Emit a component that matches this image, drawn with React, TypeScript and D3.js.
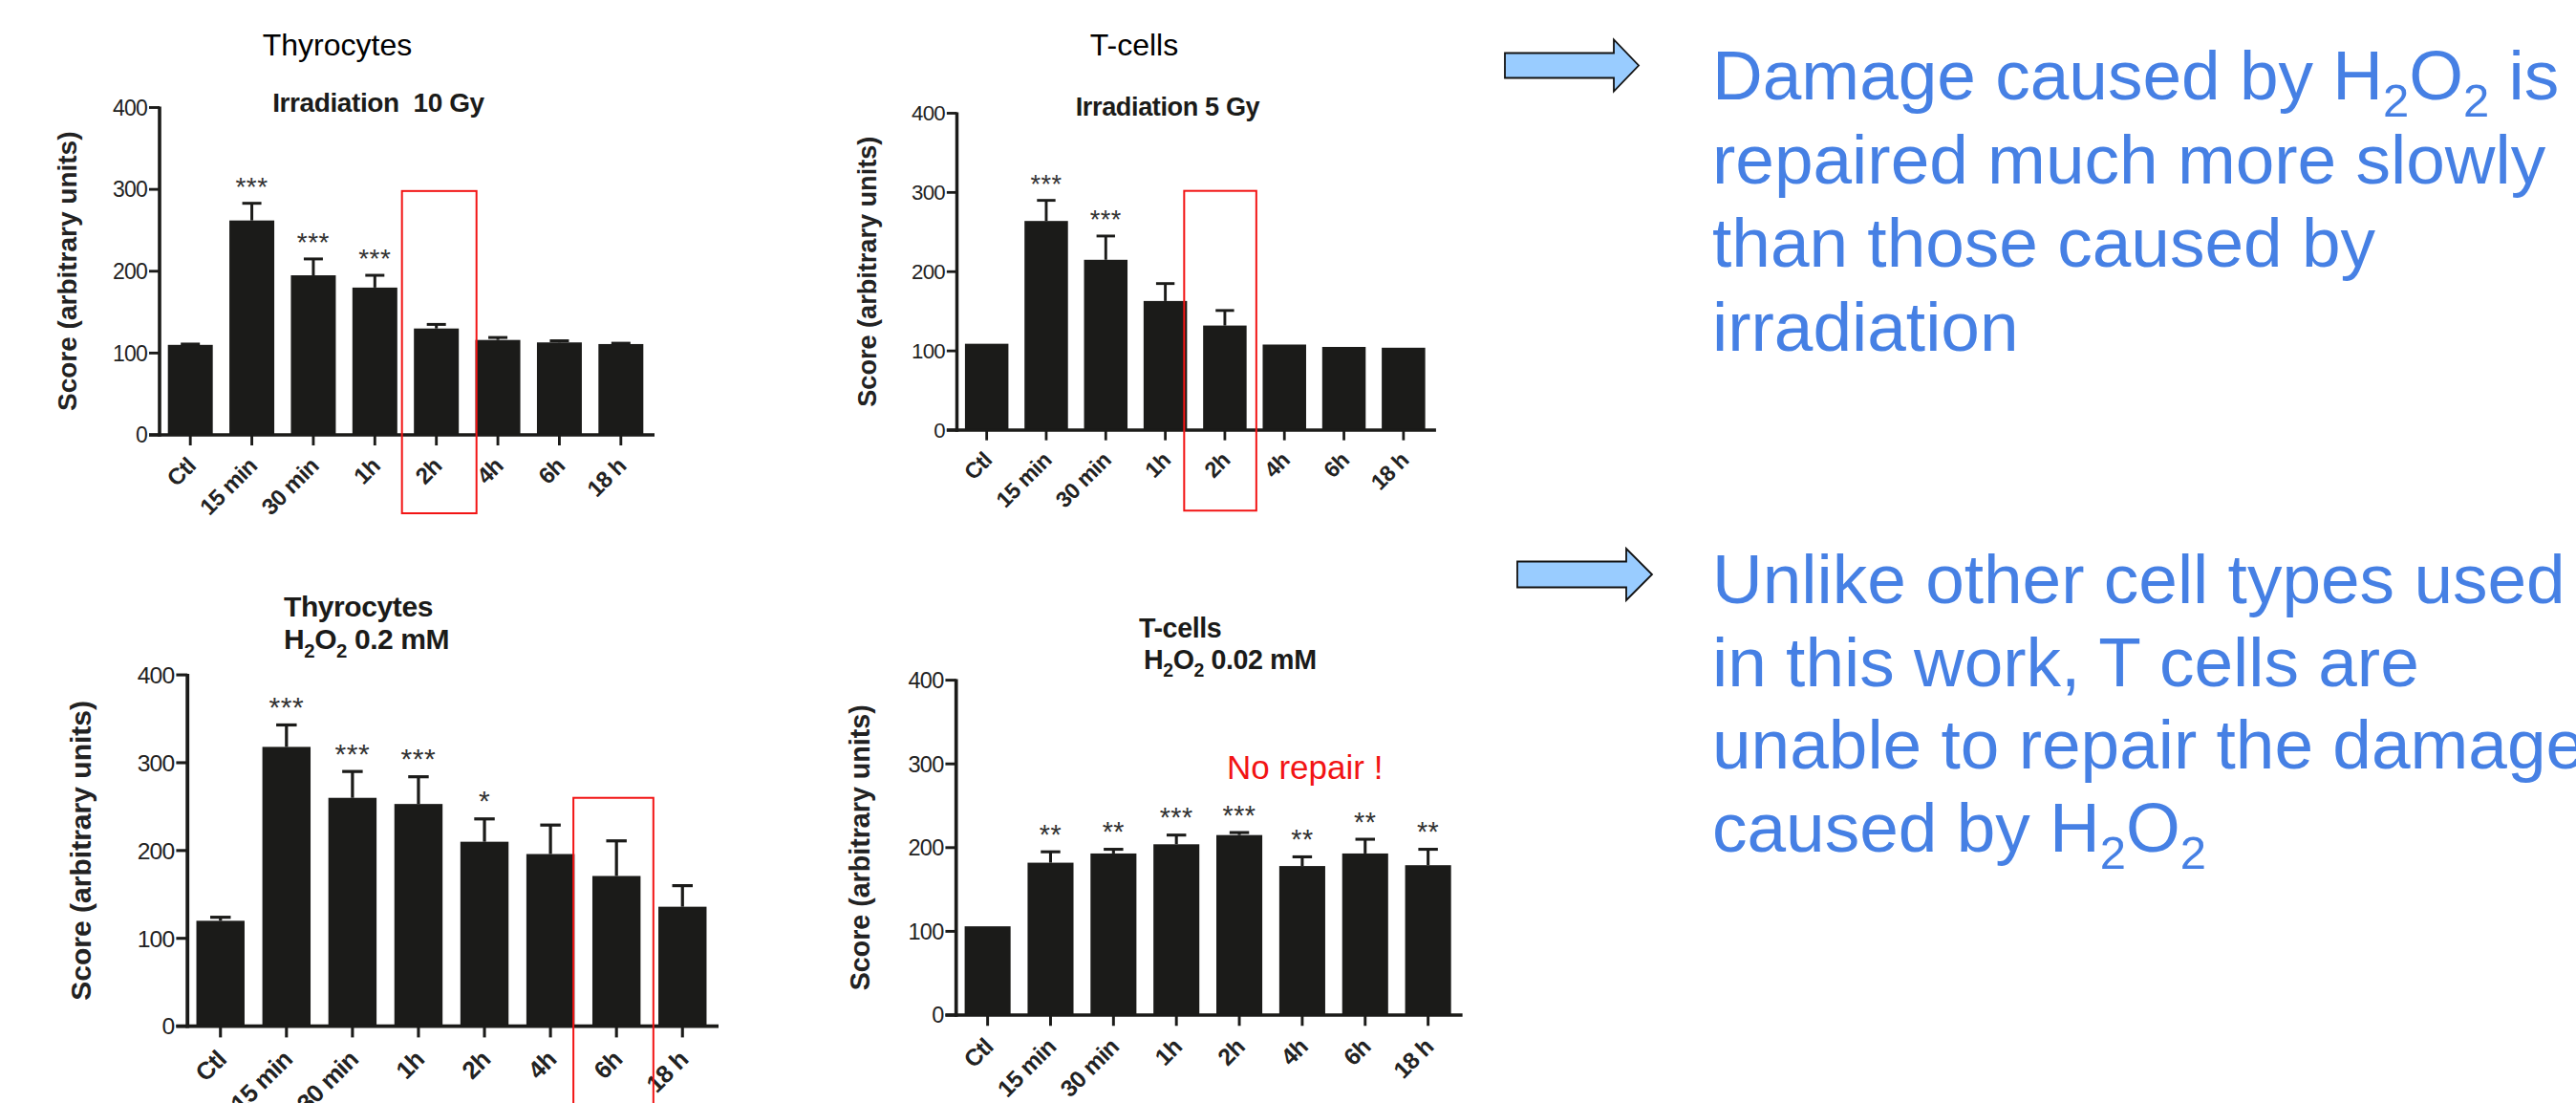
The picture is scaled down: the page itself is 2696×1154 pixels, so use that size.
import React from 'react';
import * as d3 from 'd3';

const categories = ['Ctl', '15 min', '30 min', '1h', '2h', '4h', '6h', '18 h'];
const yTicks = [0, 100, 200, 300, 400];

// Thyrocytes, irradiation 10 Gy
const thyroIrrMean = [110, 262, 195, 180, 130, 116, 113, 111];
const thyroIrrErr = [1, 21, 20, 15, 5, 3, 2, 1];
const thyroIrrStars = ['', '***', '***', '***', '', '', '', ''];

// T-cells, irradiation 5 Gy
const tcellIrrMean = [109, 264, 215, 163, 132, 108, 105, 104];
const tcellIrrErr = [0, 26, 30, 22, 19, 0, 0, 0];
const tcellIrrStars = ['', '***', '***', '', '', '', '', ''];

// Thyrocytes, H2O2 0.2 mM
const thyroH2o2Mean = [120, 318, 260, 253, 210, 196, 171, 136];
const thyroH2o2Err = [4, 25, 30, 31, 26, 33, 40, 24];
const thyroH2o2Stars = ['', '***', '***', '***', '*', '', '', ''];

// T-cells, H2O2 0.02 mM
const tcellH2o2Mean = [106, 182, 193, 204, 215, 178, 193, 179];
const tcellH2o2Err = [0, 13, 5, 11, 3, 11, 17, 19];
const tcellH2o2Stars = ['', '**', '**', '***', '***', '**', '**', '**'];

const notesTop = ['Damage caused by H2O2 is', 'repaired much more slowly', 'than those caused by', 'irradiation'];
const notesBottom = ['Unlike other cell types used', 'in this work, T cells are', 'unable to repair the damage', 'caused by H2O2'];

const FONT = '"Liberation Sans", Arial, Helvetica, sans-serif';
const INK = '#1b1b19';
const BLUE = '#4680e4';
const RED = '#f21414';

// renders text, turning every "H2O2" into H₂O₂ with lowered small 2s
function withChem(str: string, subSize: number, dy: number) {
  const parts = str.split('H2O2');
  const out: any[] = [];
  parts.forEach((part, i) => {
    if (i > 0) {
      out.push(<tspan key={'h' + i}>H</tspan>);
      out.push(<tspan key={'a' + i} dy={dy} fontSize={subSize}>2</tspan>);
      out.push(<tspan key={'o' + i} dy={-dy}>O</tspan>);
      out.push(<tspan key={'b' + i} dy={dy} fontSize={subSize}>2</tspan>);
      out.push(<tspan key={'r' + i} dy={-dy}>{part}</tspan>);
    } else if (part) {
      out.push(<tspan key={'p' + i}>{part}</tspan>);
    }
  });
  return out;
}

const panels = [
  {
    key: 'thyro-irr', x0: 167, y0: 455, s: 1,
    mean: thyroIrrMean, err: thyroIrrErr, stars: thyroIrrStars,
    labelX: 70,
    header: { text: 'Thyrocytes', x: 353, y: 58 },
    titles: [{ text: 'Irradiation  10 Gy', x: 396, y: 117, anchor: 'middle' }],
    box: { cat: '2h', top: 298, dx0: -36, dx1: 42, bottom: 82 },
  },
  {
    key: 'tcell-irr', x0: 1001.5, y0: 450, s: 0.968,
    mean: tcellIrrMean, err: tcellIrrErr, stars: tcellIrrStars,
    labelX: 907,
    header: { text: 'T-cells', x: 1187, y: 58 },
    titles: [{ text: 'Irradiation 5 Gy', x: 1222, y: 121, anchor: 'middle' }],
    box: { cat: '2h', top: 302, dx0: -44, dx1: 34, bottom: 87 },
  },
  {
    key: 'thyro-h2o2', x0: 196.2, y0: 1073.6, s: 1.073,
    mean: thyroH2o2Mean, err: thyroH2o2Err, stars: thyroH2o2Stars,
    labelX: 84,
    header: null,
    titles: [
      { text: 'Thyrocytes', x: 297, y: 645, anchor: 'start' },
      { text: 'H2O2 0.2 mM', x: 297, y: 679, anchor: 'start' },
    ],
    box: { cat: '6h', top: 260, dx0: -42, dx1: 36, bottom: 200 },
  },
  {
    key: 'tcell-h2o2', x0: 1000.7, y0: 1062, s: 1.023,
    mean: tcellH2o2Mean, err: tcellH2o2Err, stars: tcellH2o2Stars,
    labelX: 900,
    header: null,
    titles: [
      { text: 'T-cells', x: 1192, y: 667, anchor: 'start' },
      { text: 'H2O2 0.02 mM', x: 1197, y: 700, anchor: 'start' },
    ],
    box: null,
  },
];

function BarPanel({ p }: { p: any }) {
  const s = p.s;
  const x = d3.scaleBand<string>()
    .domain(categories)
    .range([p.x0, p.x0 + 515 * s])
    .paddingInner(0.27)
    .paddingOuter(0.135);
  const y = d3.scaleLinear().domain([0, 400]).range([p.y0, p.y0 - 342.5 * s]);
  const bw = x.bandwidth();
  const cx = (c: string) => (x(c) as number) + bw / 2;
  const axisW = 3.6 * s;
  const tickLen = 11 * s;
  const titleSize = 28 * s;
  const subSize = 19 * s;
  const [, xEnd] = x.range();

  return (
    <g>
      {p.header && (
        <text x={p.header.x} y={p.header.y} textAnchor="middle" fontSize={32} fill="#000">
          {p.header.text}
        </text>
      )}
      {p.titles.map((t: any, i: number) => (
        <text key={i} x={t.x} y={t.y} textAnchor={t.anchor} fontSize={titleSize} fontWeight="bold"
          fill={INK} letterSpacing={-0.4 * s} style={{ whiteSpace: 'pre' }}>
          {withChem(t.text, subSize, 8 * s)}
        </text>
      ))}

      {/* bars */}
      {categories.map((c, i) => (
        <rect key={c} x={x(c)} y={y(p.mean[i])} width={bw} height={y(0) - y(p.mean[i])} fill={INK} />
      ))}

      {/* upper error bars */}
      {categories.map((c, i) => {
        const e = p.err[i];
        if (!e) return null;
        const top = y(p.mean[i] + e);
        return (
          <g key={c} stroke={INK} strokeWidth={3 * s}>
            <line x1={cx(c)} x2={cx(c)} y1={y(p.mean[i])} y2={top} />
            <line x1={cx(c) - 10 * s} x2={cx(c) + 10 * s} y1={top} y2={top} />
          </g>
        );
      })}

      {/* significance stars */}
      {categories.map((c, i) => p.stars[i] ? (
        <text key={c} x={cx(c)} y={y(p.mean[i] + p.err[i]) - 8 * s} textAnchor="middle"
          fontSize={28 * s} fill="#333" letterSpacing={0.5 * s}>
          {p.stars[i]}
        </text>
      ) : null)}

      {/* y axis */}
      <line x1={p.x0} x2={p.x0} y1={y(0) + axisW / 2} y2={y(400) - 1} stroke={INK} strokeWidth={axisW} />
      {yTicks.map(t => (
        <g key={t}>
          <line x1={p.x0 - tickLen} x2={p.x0} y1={y(t)} y2={y(t)} stroke={INK} strokeWidth={axisW * 0.8} />
          <text x={p.x0 - tickLen - 2 * s} y={y(t)} dy="0.36em" textAnchor="end" fontSize={23 * s}
            fill="#222" letterSpacing={-0.8 * s}>
            {t}
          </text>
        </g>
      ))}

      {/* x axis */}
      <line x1={p.x0 - tickLen} x2={xEnd + 3 * s} y1={y(0)} y2={y(0)} stroke={INK} strokeWidth={axisW} />
      {categories.map(c => (
        <g key={c}>
          <line x1={cx(c)} x2={cx(c)} y1={y(0)} y2={y(0) + tickLen} stroke={INK} strokeWidth={axisW * 0.8} />
          <text transform={`translate(${cx(c) + 7 * s},${y(0) + 34 * s}) rotate(-45)`} textAnchor="end"
            fontSize={24 * s} fontWeight="bold" fill="#222" letterSpacing={-0.6 * s}>
            {c}
          </text>
        </g>
      ))}

      {/* y axis title */}
      <text transform={`translate(${p.labelX + 10 * s},${(y(0) + y(400)) / 2}) rotate(-90)`}
        textAnchor="middle" fontSize={28 * s} fontWeight="bold" fill="#222">
        Score (arbitrary units)
      </text>

      {/* red highlight */}
      {p.box && (
        <rect x={cx(p.box.cat) + p.box.dx0 * s} y={y(p.box.top)}
          width={(p.box.dx1 - p.box.dx0) * s} height={y(0) + p.box.bottom * s - y(p.box.top)}
          fill="none" stroke={RED} strokeWidth={2} />
      )}
    </g>
  );
}

function Arrow({ tail, tip, cy, headBase, shaftH, headH }: any) {
  const pts = [
    [tail, cy - shaftH], [headBase, cy - shaftH], [headBase, cy - headH], [tip, cy],
    [headBase, cy + headH], [headBase, cy + shaftH], [tail, cy + shaftH],
  ];
  return (
    <polygon points={pts.map(d => d.join(',')).join(' ')} fill="#99ccff" stroke="#111" strokeWidth={1.8}
      strokeLinejoin="miter" />
  );
}

function Notes({ lines, x, y0, gap }: { lines: string[]; x: number; y0: number; gap: number }) {
  return (
    <g>
      {lines.map((ln, i) => (
        <text key={i} x={x} y={y0 + i * gap} fontSize={73} fill={BLUE} style={{ whiteSpace: 'pre' }}>
          {withChem(ln, 49, 18)}
        </text>
      ))}
    </g>
  );
}

export default function App() {
  const W = 2696;
  const H = 1154;
  return (
    <svg width={W} height={H} viewBox={`0 0 ${W} ${H}`} fontFamily={FONT}
      style={{ position: 'absolute', left: 0, top: 0, display: 'block', background: '#fff' }}>
      <rect width={W} height={H} fill="#fff" />
      {panels.map(p => <BarPanel key={p.key} p={p} />)}

      <text x={1284} y={815} fontSize={35} fill={RED}>No repair !</text>

      <Arrow tail={1575} tip={1715} cy={68.5} headBase={1689} shaftH={13} headH={27} />
      <Arrow tail={1588} tip={1729} cy={601} headBase={1702} shaftH={13.5} headH={27} />

      <Notes lines={notesTop} x={1792} y0={104} gap={87.6} />
      <Notes lines={notesBottom} x={1792} y0={631} gap={86.6} />
    </svg>
  );
}
